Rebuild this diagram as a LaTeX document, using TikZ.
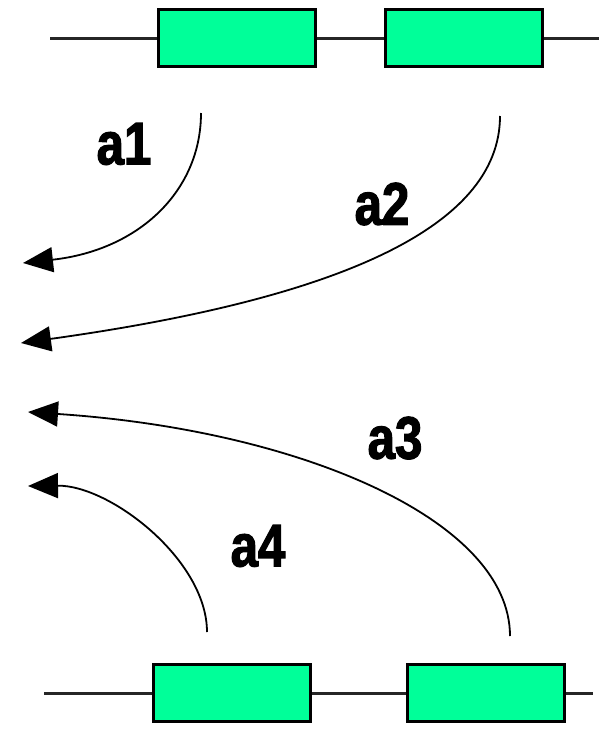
\documentclass[tikz,border=0pt]{standalone}
\usepackage{fontspec}
\setmainfont{Liberation Sans}
\usetikzlibrary{arrows.meta}
\definecolor{exongreen}{RGB}{0,255,153}

\begin{document}
\begin{tikzpicture}[x=1pt, y=-1pt,
  exon/.style={draw=black, fill=exongreen, line width=3pt,
               minimum width=157pt, minimum height=57pt, inner sep=0pt},
  strand/.style={line width=3pt, black!85},
  reads/.style={line width=1.8pt, -{Triangle[length=30pt,width=25pt]}},
  tag/.style={font=\fontsize{60}{60}\selectfont\bfseries\addfontfeatures{FakeStretch=0.82,FakeBold=2}}]
  \useasboundingbox (0,0) rectangle (601,729);

  % upper gene
  \coordinate (tl) at (50,38);
  \coordinate (tr) at (599,38);
  \node[exon] (t1) at (237,38) {};
  \node[exon] (t2) at (464,38) {};
  \draw[strand] (tl) -- (t1.west) (t1.east) -- (t2.west) (t2.east) -- (tr);

  % lower gene
  \coordinate (bl) at (44,693);
  \coordinate (br) at (593,693);
  \node[exon] (b1) at (232,693) {};
  \node[exon] (b2) at (486,693) {};
  \draw[strand] (bl) -- (b1.west) (b1.east) -- (b2.west) (b2.east) -- (br);

  % curved arrows
  \coordinate (s1) at (201,113);  \coordinate (e1) at (23,263);
  \coordinate (s2) at (500,116);  \coordinate (e2) at (21,343);
  \coordinate (s3) at (510,636);  \coordinate (e3) at (28,412);
  \coordinate (s4) at (207,632);  \coordinate (e4) at (28,486);
  \draw[reads] (s1) .. controls (201,190) and (140,250) .. (e1);
  \draw[reads] (s2) .. controls (500,230) and (330,300) .. (e2);
  \draw[reads] (s3) .. controls (510,520) and (300,430) .. (e3);
  \draw[reads] (s4) .. controls (207,560) and (110,485) .. (e4);

  \node[tag] (a1) at (124,144) {a1};
  \node[tag] (a2) at (382,204) {a2};
  \node[tag] (a3) at (395,438) {a3};
  \node[tag] (a4) at (258,546) {a4};
\end{tikzpicture}
\end{document}
